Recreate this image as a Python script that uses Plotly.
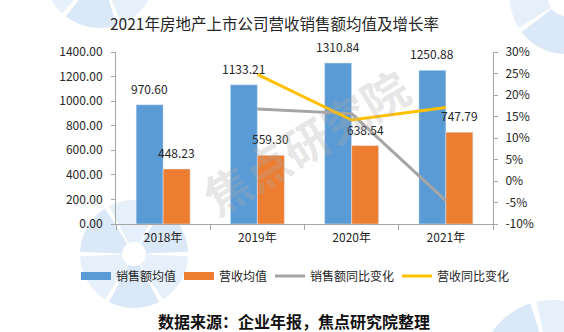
import math
import plotly.graph_objects as go

# ---- data ----
years = ["2018年", "2019年", "2020年", "2021年"]
sales_avg = [970.60, 1133.21, 1310.84, 1250.88]      # 销售额均值
revenue_avg = [448.23, 559.30, 638.54, 747.79]       # 营收均值
yoy_years = ["2019年", "2020年", "2021年"]
sales_yoy = [16.75, 15.67, -4.57]                    # 销售额同比变化 (%)
revenue_yoy = [24.78, 14.17, 17.11]                  # 营收同比变化 (%)

left_ticks = [0, 200, 400, 600, 800, 1000, 1200, 1400]
right_ticks = [-10, -5, 0, 5, 10, 15, 20, 25, 30]

BLUE, ORANGE, GRAY, YELLOW = "#5B9BD5", "#ED7D31", "#A5A5A5", "#FFC000"
FONT = "Microsoft YaHei, Noto Sans CJK SC, sans-serif"
TXT = "#262626"
AXIS = "#A6A6A6"

W, H = 564, 332
L, R, T, B = 116, 71, 52, 108
PW, PH = W - L - R, H - T - B


def paper(px, py):
    return (px - L) / PW, (H - B - py) / PH


def wheel(cx, cy, r_out, r_in, n, start, gap, colors):
    """Faint segmented ring (logo mark) as paper-space path shapes."""
    shapes = []
    step = 360 / n
    for k in range(n):
        a0 = math.radians(start + k * step + gap / 2)
        a1 = math.radians(start + (k + 1) * step - gap / 2)
        pts = []
        for i in range(13):
            a = a0 + (a1 - a0) * i / 12
            pts.append(paper(cx + r_out * math.cos(a), cy + r_out * math.sin(a)))
        for i in range(13):
            a = a1 - (a1 - a0) * i / 12
            pts.append(paper(cx + r_in * math.cos(a), cy + r_in * math.sin(a)))
        d = "M" + " L".join(f"{x:.4f},{y:.4f}" for x, y in pts) + " Z"
        shapes.append(dict(type="path", xref="paper", yref="paper", path=d,
                           fillcolor=colors[k % len(colors)], line=dict(width=0),
                           layer="below"))
    return shapes


fig = go.Figure()

fig.add_trace(go.Bar(x=years, y=sales_avg, name="销售额均值", marker_color=BLUE,
                     showlegend=False, yaxis="y"))
fig.add_trace(go.Bar(x=years, y=revenue_avg, name="营收均值", marker_color=ORANGE,
                     showlegend=False, yaxis="y"))

# legend entries drawn as wide flat swatches for the bar series
fig.add_trace(go.Scatter(x=[None], y=[None], mode="lines", name="销售额均值",
                         line=dict(color=BLUE, width=8), legendwidth=58))
fig.add_trace(go.Scatter(x=[None], y=[None], mode="lines", name="营收均值",
                         line=dict(color=ORANGE, width=8), legendwidth=46))

fig.add_trace(go.Scatter(x=yoy_years, y=sales_yoy, mode="lines", name="销售额同比变化",
                         line=dict(color=GRAY, width=3), yaxis="y2", legendwidth=82))
fig.add_trace(go.Scatter(x=yoy_years, y=revenue_yoy, mode="lines", name="营收同比变化",
                         line=dict(color=YELLOW, width=3), yaxis="y2", legendwidth=72))

annotations = []
bar_half = 13.5
for yr, v in zip(years, sales_avg):
    annotations.append(dict(x=yr, y=v, xref="x", yref="y", text=f"{v:.2f}",
                            showarrow=False, xshift=-bar_half, yshift=6,
                            yanchor="bottom", font=dict(size=12, color=TXT, family=FONT)))
for yr, v in zip(years, revenue_avg):
    annotations.append(dict(x=yr, y=v, xref="x", yref="y", text=f"{v:.2f}",
                            showarrow=False, xshift=bar_half, yshift=6,
                            yanchor="bottom", font=dict(size=12, color=TXT, family=FONT)))

# title
tx, ty = paper(274, 23)
annotations.append(dict(x=tx, y=ty, xref="paper", yref="paper", showarrow=False,
                        text="2021年房地产上市公司营收销售额均值及增长率",
                        yanchor="middle", xanchor="center",
                        font=dict(size=15.5, color=TXT, family=FONT)))
# source note
sx, sy = paper(294, 321)
annotations.append(dict(x=sx, y=sy, xref="paper", yref="paper", showarrow=False,
                        text="<b>数据来源：企业年报，焦点研究院整理</b>",
                        yanchor="middle", xanchor="center",
                        font=dict(size=16, color="#111111", family=FONT)))
# watermark
wx, wy = paper(305, 141)
annotations.append(dict(x=wx, y=wy, xref="paper", yref="paper", showarrow=False,
                        text="<b>焦点研究院</b>", textangle=-31,
                        font=dict(size=46, color="rgba(170,170,170,0.28)", family=FONT)))

shapes = []
logo_cols = ["rgba(226,238,250,0.9)", "rgba(214,230,246,0.9)"]
shapes += wheel(100, -28, 56, 24, 6, 10, 5, logo_cols)
shapes += wheel(566, -2, 56, 18, 6, 25, 5, logo_cols)
shapes += wheel(134, 254, 54, 12, 6, 0, 5, logo_cols)
shapes += wheel(552, 372, 72, 20, 6, 15, 5, logo_cols)

lgx, lgy = paper(76, 276)

fig.update_layout(
    width=W, height=H,
    margin=dict(l=L, r=R, t=T, b=B, pad=0),
    paper_bgcolor="white", plot_bgcolor="rgba(0,0,0,0)",
    barmode="group", bargap=0.427, bargroupgap=0,
    font=dict(family=FONT, size=12, color=TXT),
    showlegend=True,
    legend=dict(orientation="h", x=lgx, y=lgy, xanchor="left", yanchor="middle",
                font=dict(size=12, color=TXT, family=FONT), bgcolor="rgba(0,0,0,0)",
                traceorder="normal", itemwidth=30),
    xaxis=dict(type="category", categoryorder="array", categoryarray=years,
               showline=True, linecolor=AXIS, linewidth=1, ticks="outside",
               tickson="boundaries", ticklen=5, tickcolor=AXIS, showgrid=False,
               zeroline=False, tickfont=dict(size=12, color=TXT),
               ticklabelstandoff=3),
    yaxis=dict(range=[0, 1400], tickvals=left_ticks,
               ticktext=[f"{v:.2f}" for v in left_ticks],
               showline=True, linecolor=AXIS, linewidth=1, ticks="outside",
               ticklen=4, tickcolor=AXIS, showgrid=False, zeroline=False,
               tickfont=dict(size=12, color=TXT), ticklabelstandoff=6),
    yaxis2=dict(range=[-10, 30], tickvals=right_ticks,
                ticktext=[f"{v}%" for v in right_ticks],
                overlaying="y", side="right", showline=True, linecolor=AXIS,
                linewidth=1, ticks="outside", ticklen=4, tickcolor=AXIS,
                showgrid=False, zeroline=False, tickfont=dict(size=12, color=TXT),
                ticklabelstandoff=5),
    annotations=annotations,
    shapes=shapes,
)

fig.write_html("out.html")
